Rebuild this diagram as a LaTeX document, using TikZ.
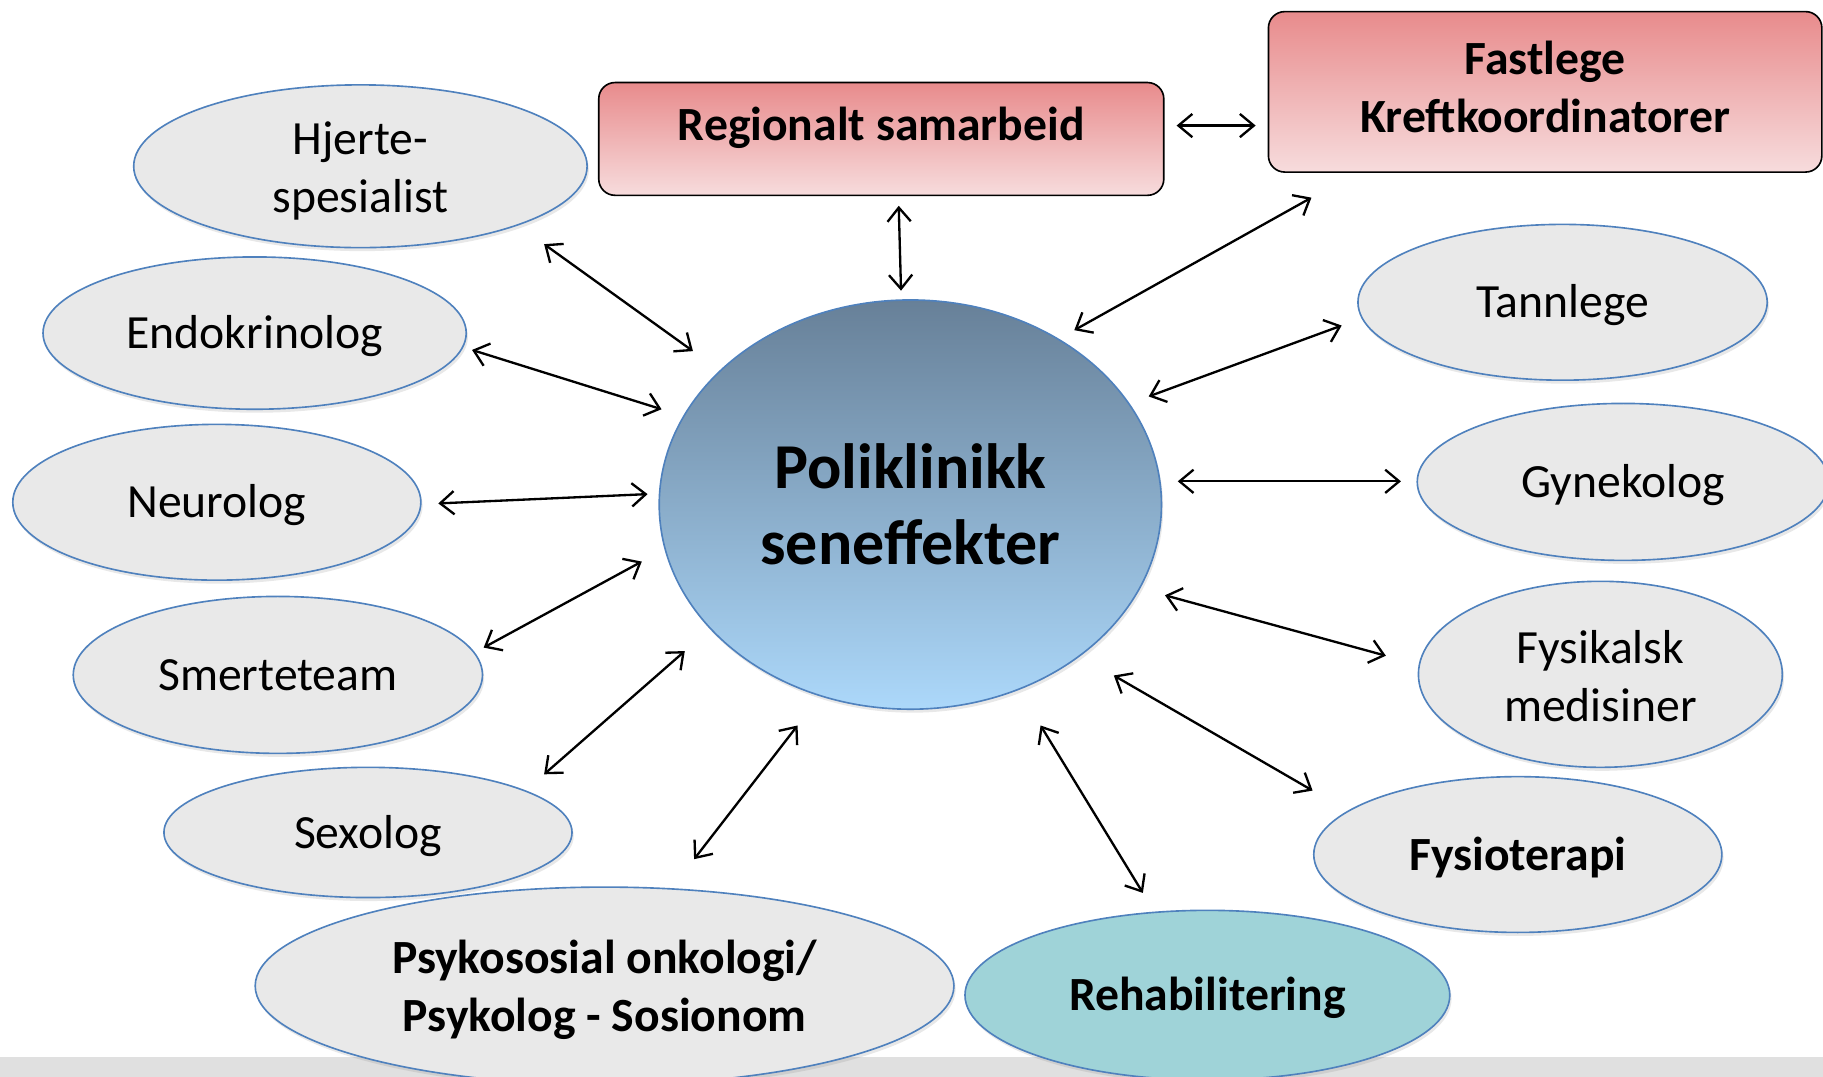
\documentclass[tikz,border=0pt]{standalone}
\usepackage{fontspec}
\setmainfont{Carlito}
\usetikzlibrary{arrows.meta,shapes.geometric,shadows}

\definecolor{ovalfill}{RGB}{233,233,233}
\definecolor{ovalline}{RGB}{79,129,189}
\definecolor{rehabfill}{RGB}{159,211,216}
\definecolor{politop}{RGB}{103,128,152}
\definecolor{polibottom}{RGB}{172,216,250}
\definecolor{boxtop}{RGB}{232,139,140}
\definecolor{boxbottom}{RGB}{247,220,221}
\definecolor{stripgray}{RGB}{224,224,224}

\begin{document}
\begin{tikzpicture}[x=1pt,y=-1pt,
  oval/.style={ellipse, draw=ovalline, line width=1.4pt, fill=ovalfill,
    inner sep=0pt, align=center, font=\fontsize{41}{50}\selectfont,
    text height=29pt, text depth=2pt,
    drop shadow={opacity=0.18, shadow xshift=1.5pt, shadow yshift=-3pt}},
  twoline/.style={text height=81pt},
  boldoval/.style={oval, font=\bfseries\fontsize{41}{50}\selectfont},
  redbox/.style={rectangle, rounded corners=14pt, draw=black, line width=1.4pt,
    top color=boxtop, bottom color=boxbottom, inner sep=0pt, align=center,
    font=\bfseries\fontsize{41}{50}\selectfont},
  hub/.style={ellipse, draw=ovalline, line width=1.4pt, top color=politop,
    bottom color=polibottom, inner sep=0pt, align=center,
    font=\bfseries\fontsize{55}{65}\selectfont,
    drop shadow={opacity=0.18, shadow xshift=1.5pt, shadow yshift=-3pt}},
  link/.style={{Straight Barb[length=12pt,width=20pt]}-{Straight Barb[length=12pt,width=20pt]},
    line width=2pt}
]
\clip (0,0) rectangle (1568,925.5);
\useasboundingbox (0,0) rectangle (1568,925.5);

% grey footer band
\fill[stripgray] (0,909) rectangle (1568,926);

% central clinic
\node[hub, minimum width=432pt, minimum height=352pt] (poli) at (783,434)
  {Poliklinikk\\seneffekter};

% coordinating bodies
\node[redbox, minimum width=486pt, minimum height=97pt, text height=15pt, text depth=12pt]
  (reg) at (758,119.5) {Regionalt samarbeid};
\node[redbox, minimum width=476pt, minimum height=138pt, text depth=8pt]
  (fast) at (1329,79) {Fastlege\\Kreftkoordinatorer};

% specialists, left side
\node[oval, twoline, minimum width=390pt, minimum height=140pt] (hjerte) at (310,143)
  {Hjerte-\\spesialist};
\node[oval, minimum width=364pt, minimum height=131pt] (endo) at (219,286.5)
  {Endokrinolog};
\node[oval, minimum width=351pt, minimum height=134pt] (neuro) at (186.5,432)
  {Neurolog};
\node[oval, minimum width=352pt, minimum height=135pt] (smerte) at (239,580.5)
  {Smerteteam};
\node[oval, minimum width=351pt, minimum height=112pt] (sexo) at (316.5,716)
  {Sexolog};
\node[boldoval, twoline, minimum width=601pt, minimum height=170pt] (psyk) at (520,848)
  {Psykososial onkologi/\\Psykolog - Sosionom};

% specialists, right side
\node[oval, minimum width=352pt, minimum height=134pt] (tann) at (1344,260)
  {Tannlege};
\node[oval, minimum width=354pt, minimum height=135pt] (gyn) at (1396,414.5)
  {Gynekolog};
\node[oval, twoline, text depth=0pt, minimum width=313pt, minimum height=160pt] (fysik) at (1376.5,580)
  {Fysikalsk\\medisiner};
\node[boldoval, minimum width=351pt, minimum height=134pt] (fysio) at (1305.5,735)
  {Fysioterapi};
\node[boldoval, fill=rehabfill, minimum width=417pt, minimum height=146pt] (rehab) at (1038.5,856)
  {Rehabilitering};

% connector end points
\coordinate (regA) at (773,177);   \coordinate (regB) at (775,250);
\coordinate (fastA) at (1012,108); \coordinate (fastB) at (1080,108);
\coordinate (fpA) at (1128,170);   \coordinate (fpB) at (924,284);
\coordinate (tannA) at (1154,280); \coordinate (tannB) at (988,341);
\coordinate (gynA) at (1013,414);  \coordinate (gynB) at (1205,414);
\coordinate (fysikA) at (1002,512);\coordinate (fysikB) at (1192,564);
\coordinate (fysioA) at (958,581); \coordinate (fysioB) at (1129,680);
\coordinate (rehabA) at (895,624); \coordinate (rehabB) at (983,768);
\coordinate (psykA) at (686,624);  \coordinate (psykB) at (597,739);
\coordinate (sexoA) at (589,560);  \coordinate (sexoB) at (468,666);
\coordinate (smerA) at (552,483);  \coordinate (smerB) at (416,557);
\coordinate (neuroA) at (557,425); \coordinate (neuroB) at (377,433);
\coordinate (endoA) at (569,352);  \coordinate (endoB) at (406,301);
\coordinate (hjA) at (596,302);    \coordinate (hjB) at (468,210);

% two-way links
\draw[link] (regA) -- (regB);
\draw[link] (fastA) -- (fastB);
\draw[link] (fpA) -- (fpB);
\draw[link] (tannA) -- (tannB);
\draw[link] (gynA) -- (gynB);
\draw[link] (fysikA) -- (fysikB);
\draw[link] (fysioA) -- (fysioB);
\draw[link] (rehabA) -- (rehabB);
\draw[link] (psykA) -- (psykB);
\draw[link] (sexoA) -- (sexoB);
\draw[link] (smerA) -- (smerB);
\draw[link] (neuroA) -- (neuroB);
\draw[link] (endoA) -- (endoB);
\draw[link] (hjA) -- (hjB);
\end{tikzpicture}
\end{document}
